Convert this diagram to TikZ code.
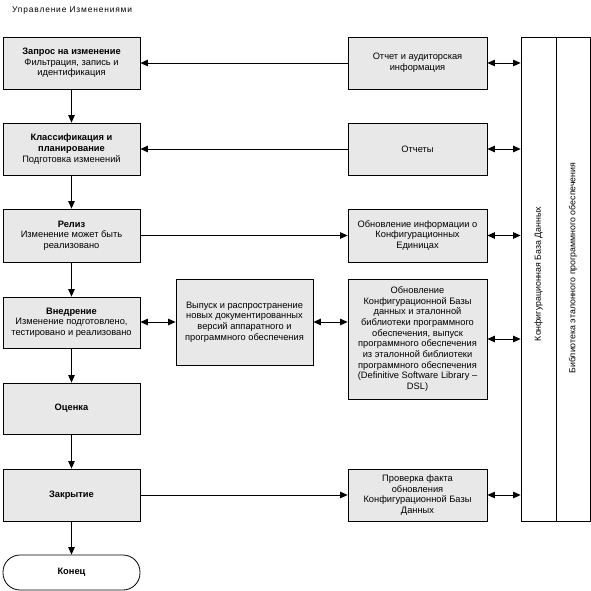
\documentclass[tikz,border=0pt]{standalone}
\usepackage{fontspec}
\setmainfont{Liberation Sans}
\newfontfamily\titlefont[LetterSpace=10]{Liberation Sans}
\usetikzlibrary{arrows.meta}
\definecolor{boxgray}{RGB}{232,232,232}
\tikzset{
  box/.style={draw=black, line width=0.8pt, fill=boxgray, align=center, inner sep=1pt,
    font=\fontsize{9.3}{10.7}\selectfont, minimum width=#1},
  box/.default=137pt,
  col/.style={draw=black, line width=0.8pt, fill=white, minimum width=35pt, minimum height=484pt, inner sep=0pt},
  arr/.style={line width=0.8pt, -{Triangle[length=7.5pt,width=6.5pt]}},
  arrb/.style={line width=0.8pt, {Triangle[length=7.5pt,width=6.5pt]}-{Triangle[length=7.5pt,width=6.5pt]}},
  lbl/.style={font=\fontsize{8.8}{10.7}\selectfont}
}
\begin{document}
\begin{tikzpicture}[x=1pt,y=-1pt]
\useasboundingbox (0,0) rectangle (591,591);
\node[anchor=west, inner sep=0pt, font=\titlefont\fontsize{8.4}{10}\selectfont] (title) at (12,10) {Управление Изменениями};
% left column
\node[box, minimum height=52pt] (b1) at (71.5,63) {\textbf{Запрос на изменение}\\Фильтрация, запись и\\идентификация};
\node[box, minimum height=52pt] (b2) at (71.5,149) {\textbf{Классификация и}\\\textbf{планирование}\\Подготовка изменений};
\node[box, minimum height=53pt] (b3) at (71.5,235.5) {\textbf{Релиз}\\Изменение может быть\\реализовано};
\node[box, minimum height=51pt] (b4) at (71.5,322.5) {\textbf{Внедрение}\\Изменение подготовлено,\\тестировано и реализовано};
\node[box, minimum height=51pt] (b5) at (71.5,408.5) {\textbf{Оценка}};
\node[box, minimum height=52pt] (b6) at (71.5,495) {\textbf{Закрытие}};
\node[draw=black, line width=0.8pt, fill=white, rounded corners=17pt, minimum width=137pt, minimum height=35pt, font=\fontsize{9.3}{10.7}\selectfont] (end) at (71.5,572.5) {\textbf{Конец}};
% middle
\node[box, minimum height=86pt] (mid) at (244.5,322) {Выпуск и распространение\\новых документированных\\версий аппаратного и\\программного обеспечения};
% right column
\node[box=139pt, minimum height=52pt] (r1) at (417.5,63) {Отчет и аудиторская\\информация};
\node[box=139pt, minimum height=52pt] (r2) at (417.5,149) {Отчеты};
\node[box=139pt, minimum height=53pt] (r3) at (417.5,235.5) {Обновление информации о\\Конфигурационных\\Единицах};
\node[box=139pt, minimum height=120pt] (r4) at (417.5,339) {Обновление\\Конфигурационной Базы\\данных и эталонной\\библиотеки программного\\обеспечения, выпуск\\программного обеспечения\\из эталонной библиотеки\\программного обеспечения\\(Definitive Software Library –\\DSL)};
\node[box=139pt, minimum height=52pt] (r5) at (417.5,495) {Проверка факта\\обновления\\Конфигурационной Базы\\Данных};
% database columns
\node[col] (db) at (538.5,279) {};
\node[col, minimum width=34pt] (lib) at (573,279) {};
\node[lbl, rotate=90] (dbt) at (538.5,274) {Конфигурационная База Данных};
\node[lbl, rotate=90] (libt) at (573,268) {Библиотека эталонного программного обеспечения};
% arrows
\draw[arr] (b1) -- (b2);
\draw[arr] (b2) -- (b3);
\draw[arr] (b3) -- (b4);
\draw[arr] (b4) -- (b5);
\draw[arr] (b5) -- (b6);
\draw[arr] (b6) -- (end);
\draw[arr] (r1.west) -- (b1.east);
\draw[arr] (r2.west) -- (b2.east);
\draw[arr] (b3.east) -- (r3.west);
\draw[arrb] (b4.east |- mid.west) -- (mid.west);
\draw[arrb] (mid.east) -- (mid.east -| r4.west);
\draw[arr] (b6.east) -- (r5.west);
\draw[arrb] (r1.east) -- (r1.east -| db.west);
\draw[arrb] (r2.east) -- (r2.east -| db.west);
\draw[arrb] (r3.east) -- (r3.east -| db.west);
\draw[arrb] (r4.east) -- (r4.east -| db.west);
\draw[arrb] (r5.east) -- (r5.east -| db.west);
\end{tikzpicture}
\end{document}
